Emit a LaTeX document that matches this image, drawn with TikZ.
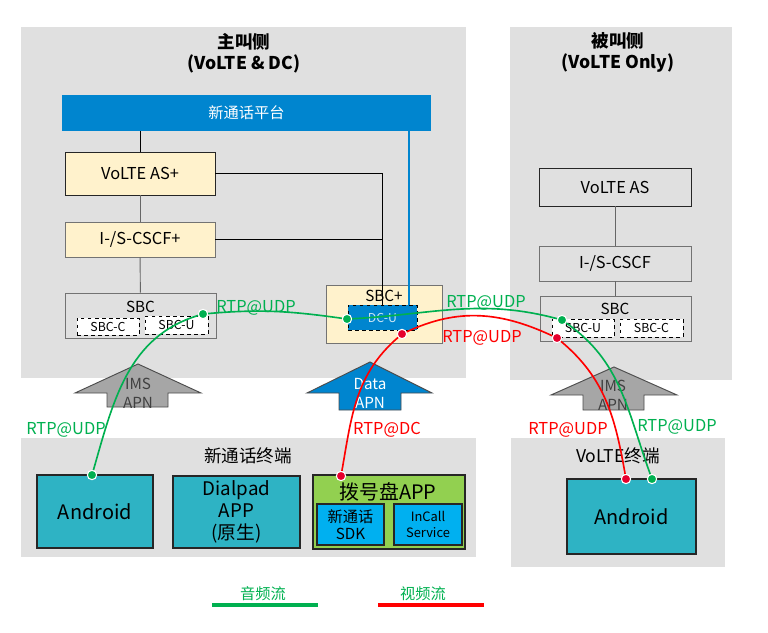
\documentclass[tikz,border=0pt]{standalone}
\usepackage{fontspec}
\setmainfont{Noto Sans CJK SC}
\definecolor{pnl}{HTML}{E0E0E0}
\definecolor{plat}{HTML}{0085CF}
\definecolor{ylw}{HTML}{FFF2CC}
\definecolor{tealb}{HTML}{2EB3C4}
\definecolor{appg}{HTML}{92D050}
\definecolor{sky}{HTML}{00B0F0}
\definecolor{apng}{HTML}{A6A6A6}
\definecolor{grn}{HTML}{00B050}
\definecolor{rdot}{HTML}{E6002D}
\begin{document}
\begin{tikzpicture}[x=0.3mm,y=0.3mm,
    pane/.style={fill=pnl},
    blk/.style={draw=black!85, line width=0.7pt, inner sep=0pt, fill=ylw, font=\fontsize{14}{16}\selectfont},
    gblk/.style={draw=gray!90!black, line width=0.7pt, inner sep=0pt, font=\fontsize{14}{16}\selectfont},
    sub/.style={draw, dashed, fill=white, line width=0.7pt, inner sep=0pt, font=\fontsize{10.5}{12}\selectfont},
    term/.style={draw=black!85, line width=2pt, inner sep=0pt, fill=tealb, align=center, font=\fontsize{17}{20}\selectfont},
    mod/.style={draw=black!85, line width=1.6pt, inner sep=0pt, fill=sky, align=center},
    hd/.style={font=\bfseries\fontsize{15}{18}\selectfont, align=center},
    capt/.style={font=\fontsize{15}{18}\selectfont},
    apn/.style={draw=black!70, line width=0.8pt},
    apnt/.style={align=center, font=\fontsize{13}{16}\selectfont},
    link/.style={draw=gray!80!black, line width=0.8pt},
    audio/.style={draw=grn, line width=1.4pt},
    video/.style={draw=red, line width=1.4pt},
    flowdot/.style={circle, fill=#1, draw=white, line width=0.9pt, inner sep=0pt, minimum size=2.8mm},
    rtp/.style={font=\fontsize{14}{16}\selectfont},
    leg/.style={text=grn, font=\fontsize{13}{15}\selectfont}]
\useasboundingbox (0,0) rectangle (768,632);
\fill[pane] (21,254) rectangle (466,605);
\fill[pane] (510,252) rectangle (732,605);
\fill[pane] (21,75) rectangle (476,194);
\fill[pane] (511,65) rectangle (725,194);
\node[hd] (callerT) at (244,578.5) {主叫侧\\(VoLTE \& DC)};
\node[hd] (calleeT) at (618,579.5) {被叫侧\\(VoLTE Only)};
\node[fill=plat, inner sep=0pt, minimum width=110.7mm, minimum height=10.8mm, text=white, font=\fontsize{13}{15}\selectfont] (plat) at (246.5,519) {新通话平台};
\node[blk, minimum width=45mm, minimum height=12.9mm] (asp) at (140,458.5) {VoLTE AS+};
\node[blk, draw=gray!90!black, minimum width=45mm, minimum height=10.5mm] (cscfp) at (140,392.5) {I-/S-CSCF+};
\node[gblk, minimum width=45.3mm, minimum height=13.5mm] (sbcl) at (140.5,316.5) {};
\node[font=\fontsize{13}{15}\selectfont] (sbclT) at (140.5,325) {SBC};
\node[sub, minimum width=18.6mm, minimum height=5.1mm] (sbcC) at (108,305.5) {SBC-C};
\node[sub, minimum width=18.9mm, minimum height=5.4mm] (sbcU) at (176.5,307) {SBC-U};
\node[blk, draw=gray!90!black, minimum width=34.8mm, minimum height=17.4mm] (sbcp) at (384,318) {};
\node[font=\fontsize{13}{15}\selectfont] (sbcpT) at (384,336) {SBC+};
\node[sub, fill=plat, text=white!80!plat, minimum width=20.7mm, minimum height=7.5mm] (dcu) at (382.5,314.5) {DC-U};
\node[gblk, draw=black!85, minimum width=45.6mm, minimum height=11.4mm] (vas) at (615,445) {VoLTE AS};
\node[gblk, minimum width=45.6mm, minimum height=10.5mm] (vcscf) at (615,368.5) {I-/S-CSCF};
\node[gblk, minimum width=45.3mm, minimum height=13.5mm] (vsbc) at (615.5,313.5) {};
\node[font=\fontsize{13}{15}\selectfont] (vsbcT) at (615,323) {SBC};
\node[sub, minimum width=18.6mm, minimum height=5.4mm] (vsbcU) at (583,304) {SBC-U};
\node[sub, minimum width=18.9mm, minimum height=5.4mm] (vsbcC) at (651.5,304) {SBC-C};
\draw (plat.south -| asp.north) -- (asp.north);
\draw[link] (asp) -- (cscfp);
\draw[link] (cscfp) -- (sbcl);
\draw (asp.east) -| (dcu.north);
\draw (cscfp.east) -- (cscfp.east -| dcu.north);
\coordinate (tap) at ([xshift=-2.4mm]dcu.north east);
\draw[draw=plat, line width=1.6pt] (tap) -- (tap |- plat.south);
\draw[link] (vas) -- (vcscf);
\draw[link] (vcscf.south) -- (vcscf.south |- vsbc.north);
\draw[apn, fill=apng] (107,225) -- (107,239) -- (75,239) -- (138,268) -- (201,239) -- (168,239) -- (168,225) -- cycle;
\node[apnt, text=black!75] (imsA) at (138,238.5) {IMS\\APN};
\draw[apn, fill=plat] (339,222) -- (339,239) -- (307,239) -- (370,270) -- (432,239) -- (401,239) -- (401,222) -- cycle;
\node[apnt, text=white] (dataA) at (370,238.5) {Data\\APN};
\draw[apn, fill=apng] (583,222) -- (583,237) -- (551,237) -- (614,265) -- (677,237) -- (644,237) -- (644,222) -- cycle;
\node[apnt, text=black!75] (imsB) at (613,237) {IMS\\APN};
\node[capt] (ntT) at (248,176) {新通话终端};
\node[term, minimum width=34.8mm, minimum height=21.9mm] (andL) at (95,120.5) {Android};
\node[term, minimum width=38.1mm, minimum height=21.6mm, font=\fontsize{16}{19}\selectfont] (dial) at (236.5,120) {Dialpad\\APP\\(原生)};
\node[term, fill=appg, minimum width=45.6mm, minimum height=22.2mm] (dapp) at (389,120) {};
\node[font=\fontsize{17}{20}\selectfont] (dappT) at (388,140) {拨号盘APP};
\node[mod, minimum width=20.1mm, minimum height=12.3mm, font=\fontsize{13}{15}\selectfont] (sdk) at (350.5,107.5) {新通话\\SDK};
\node[mod, minimum width=20.4mm, minimum height=12.3mm, font=\fontsize{11}{14}\selectfont] (incall) at (428,107.5) {InCall\\Service};
\node[capt] (vtT) at (618,176) {VoLTE终端};
\node[term, minimum width=38.7mm, minimum height=22.5mm] (andR) at (631.5,115.5) {Android};
\node[flowdot=grn] (gA) at (92,157) {};
\node[flowdot=grn] (gS) at (203,318) {};
\node[flowdot=grn] (gD) at (347,313) {};
\node[flowdot=grn] (gR) at (562,312) {};
\node[flowdot=grn] (gV) at (652,153) {};
\node[flowdot=rdot] (rA) at (341,156) {};
\node[flowdot=rdot] (rD) at (402,298) {};
\node[flowdot=rdot] (rR) at (557,294) {};
\node[flowdot=rdot] (rV) at (626,153) {};
\draw[audio] (gA) to[out=74,in=197] (gS) to[out=5,in=172] (gD) to[out=3,in=165] (gR) to[out=-35,in=110] (gV);
\draw[video] (rA) to[out=80,in=221] (rD) to[out=25,in=155] (rR) to[out=-40,in=100] (rV);
\node[rtp, text=grn] (l1) at (256,324) {RTP@UDP};
\node[rtp, text=grn] (l2) at (486,329) {RTP@UDP};
\node[rtp, text=red] (l3) at (482,294) {RTP@UDP};
\node[rtp, text=grn] (l4) at (66,202) {RTP@UDP};
\node[rtp, text=red] (l5) at (387,202) {RTP@DC};
\node[rtp, text=red] (l6) at (568,202) {RTP@UDP};
\node[rtp, text=grn] (l7) at (677,205) {RTP@UDP};
\coordinate (aL) at (212,27);
\coordinate (aR) at (318,27);
\draw[grn, line width=3pt] (aL) -- (aR);
\node[leg] (aT) at (263,38) {音频流};
\coordinate (vL) at (378,27);
\coordinate (vR) at (484,27);
\draw[red, line width=3pt] (vL) -- (vR);
\node[leg] (vT) at (423,38) {视频流};
\end{tikzpicture}
\end{document}
